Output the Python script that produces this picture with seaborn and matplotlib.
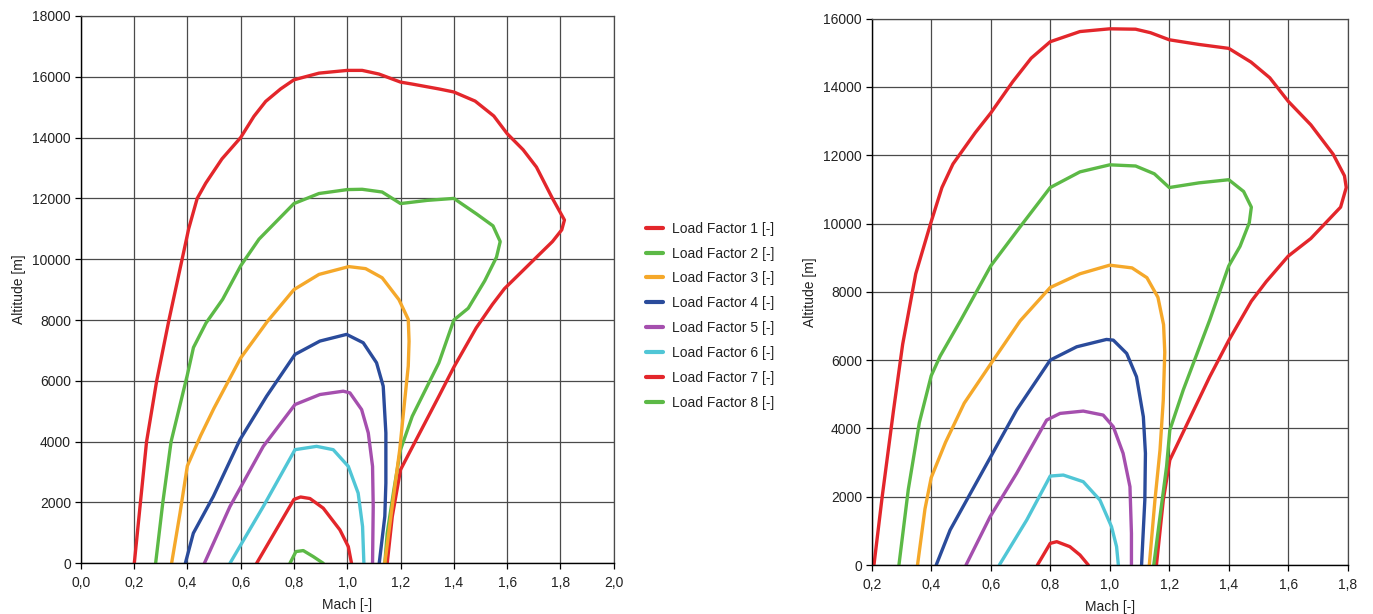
import numpy as np
import pandas as pd
import matplotlib
matplotlib.use("Agg")
import matplotlib.pyplot as plt
import seaborn as sns

# ---------------- data: left chart ----------------
L1_mach = [0.201, 0.224, 0.247, 0.285, 0.331, 0.394, 0.405, 0.437, 0.469, 0.53, 0.60, 0.65, 0.694, 0.75, 0.80,
           0.894, 1.0, 1.056, 1.119, 1.20, 1.244, 1.344, 1.40, 1.48, 1.55, 1.60, 1.66, 1.71, 1.77, 1.815,
           1.805, 1.77, 1.71, 1.65, 1.59, 1.545, 1.484, 1.40, 1.344, 1.20, 1.169, 1.15]
L1_alt = [0, 2000, 4000, 6000, 8000, 10550, 11000, 12000, 12500, 13300, 14000, 14700, 15190, 15600, 15900,
          16120, 16210, 16210, 16090, 15825, 15760, 15600, 15500, 15200, 14710, 14130, 13600, 13030, 12000, 11290,
          10967, 10580, 10065, 9548, 9032, 8516, 7742, 6450, 5495, 3077, 1538, 0]

L2_mach = [0.281, 0.308, 0.339, 0.40, 0.423, 0.47, 0.5325, 0.60, 0.669, 0.80, 0.894, 1.0, 1.056, 1.131, 1.20,
           1.30, 1.40, 1.486, 1.547, 1.574, 1.56, 1.516, 1.454, 1.40, 1.344, 1.244, 1.20, 1.175, 1.15, 1.141]
L2_alt = [0, 2000, 4000, 6194, 7097, 7900, 8680, 9780, 10660, 11830, 12160, 12290, 12300, 12210, 11830,
          11935, 12000, 11484, 11097, 10580, 10065, 9290, 8387, 8000, 6594, 4835, 3736, 2418, 989, 0]

L3_mach = [0.341, 0.3725, 0.40, 0.45, 0.50, 0.60, 0.70, 0.80, 0.894, 1.006, 1.069, 1.131, 1.194, 1.229,
           1.232, 1.229, 1.216, 1.197, 1.172, 1.141]
L3_alt = [0, 1648, 3200, 4200, 5100, 6750, 7950, 9000, 9500, 9757, 9690, 9390, 8670, 8022,
          7300, 6484, 5385, 3736, 2088, 0]

L4_mach = [0.3925, 0.4225, 0.4975, 0.5975, 0.6975, 0.804, 0.8975, 0.9975, 1.06, 1.11, 1.135, 1.145, 1.145,
           1.141, 1.12]
L4_alt = [0, 989, 2198, 4066, 5495, 6869, 7308, 7528, 7253, 6594, 5825, 4286, 2637, 1539, 0]

L5_mach = [0.464, 0.56, 0.685, 0.804, 0.8975, 0.985, 1.01, 1.054, 1.079, 1.095, 1.0975, 1.095]
L5_alt = [0, 1868, 3846, 5220, 5550, 5660, 5605, 5055, 4286, 3187, 1868, 0]

L6_mach = [0.56, 0.685, 0.804, 0.885, 0.9475, 1.004, 1.041, 1.0575, 1.0625]
L6_alt = [0, 1868, 3736, 3846, 3736, 3187, 2308, 1209, 0]

L7_mach = [0.66, 0.80, 0.825, 0.86, 0.91, 0.9725, 1.004, 1.016]
L7_alt = [0, 2100, 2180, 2130, 1813, 1099, 549, 0]

L8_mach = [0.785, 0.8075, 0.835, 0.8725, 0.91]
L8_alt = [0, 385, 418, 220, 0]

# ---------------- data: right chart ----------------
R1_mach = [0.2075, 0.235, 0.273, 0.304, 0.348, 0.398, 0.436, 0.473, 0.548, 0.60, 0.674, 0.736, 0.80, 0.90,
           1.0, 1.087, 1.137, 1.20, 1.30, 1.40, 1.475, 1.538, 1.60, 1.676, 1.751, 1.789, 1.795, 1.776,
           1.726, 1.676, 1.60, 1.526, 1.476, 1.40, 1.336, 1.202, 1.18, 1.157]
R1_alt = [0, 1986, 4511, 6462, 8528, 10000, 11053, 11742, 12660, 13234, 14152, 14841, 15323, 15621,
          15701, 15690, 15587, 15380, 15243, 15128, 14726, 14267, 13578, 12889, 12028, 11397, 11053, 10479,
          10020, 9561, 9045, 8298, 7725, 6577, 5512, 3073, 1902, 0]

R2_mach = [0.2915, 0.323, 0.36, 0.40, 0.43, 0.498, 0.60, 0.699, 0.80, 0.90, 1.0, 1.087, 1.15, 1.20, 1.30,
           1.40, 1.45, 1.476, 1.469, 1.438, 1.40, 1.363, 1.336, 1.247, 1.202, 1.191, 1.169, 1.148]
R2_alt = [0, 2215, 4166, 5543, 6117, 7150, 8757, 9905, 11053, 11512, 11718, 11684, 11455, 11053, 11190,
          11282, 10938, 10479, 10020, 9331, 8757, 7839, 7171, 5122, 3951, 2878, 1415, 0]

R3_mach = [0.354, 0.379, 0.40, 0.448, 0.511, 0.60, 0.699, 0.80, 0.90, 1.0, 1.075, 1.125, 1.162, 1.181,
           1.185, 1.18, 1.169, 1.152, 1.133]
R3_alt = [0, 1641, 2560, 3592, 4740, 5888, 7150, 8126, 8528, 8780, 8700, 8413, 7839, 7036,
          6232, 4829, 3366, 1902, 0]

R4_mach = [0.4168, 0.4635, 0.60, 0.687, 0.80, 0.889, 0.989, 1.012, 1.057, 1.09, 1.113, 1.12, 1.118, 1.107]
R4_alt = [0, 1024, 3171, 4537, 6000, 6390, 6605, 6585, 6195, 5512, 4341, 3268, 1902, 0]

R5_mach = [0.517, 0.598, 0.687, 0.788, 0.833, 0.911, 0.978, 1.012, 1.045, 1.068, 1.073, 1.073]
R5_alt = [0, 1415, 2683, 4244, 4439, 4507, 4390, 4049, 3268, 2293, 927, 0]

R6_mach = [0.629, 0.721, 0.80, 0.844, 0.911, 0.967, 1.006, 1.023, 1.029]
R6_alt = [0, 1317, 2605, 2634, 2439, 1902, 1122, 537, 0]

R7_mach = [0.757, 0.80, 0.822, 0.866, 0.90, 0.928]
R7_alt = [0, 634, 683, 537, 293, 0]

series_names = [f"Load Factor {i} [-]" for i in range(1, 9)]
series_colors = ["#e3262b", "#5cb946", "#f5a82a", "#2a4b9b", "#a54fae", "#50c6d6", "#e3262b", "#5cb946"]

left_x_ticks = [0.0, 0.2, 0.4, 0.6, 0.8, 1.0, 1.2, 1.4, 1.6, 1.8, 2.0]
left_x_labels = ["0,0", "0,2", "0,4", "0,6", "0,8", "1,0", "1,2", "1,4", "1,6", "1,8", "2,0"]
left_y_ticks = [0, 2000, 4000, 6000, 8000, 10000, 12000, 14000, 16000, 18000]
right_x_ticks = [0.2, 0.4, 0.6, 0.8, 1.0, 1.2, 1.4, 1.6, 1.8]
right_x_labels = ["0,2", "0,4", "0,6", "0,8", "1,0", "1,2", "1,4", "1,6", "1,8"]
right_y_ticks = [0, 2000, 4000, 6000, 8000, 10000, 12000, 14000, 16000]

left_curves = [(L1_mach, L1_alt), (L2_mach, L2_alt), (L3_mach, L3_alt), (L4_mach, L4_alt),
               (L5_mach, L5_alt), (L6_mach, L6_alt), (L7_mach, L7_alt), (L8_mach, L8_alt)]
right_curves = [(R1_mach, R1_alt), (R2_mach, R2_alt), (R3_mach, R3_alt), (R4_mach, R4_alt),
                (R5_mach, R5_alt), (R6_mach, R6_alt), (R7_mach, R7_alt)]


def build_df(curves):
    frames = []
    for name, (m, a) in zip(series_names, curves):
        frames.append(pd.DataFrame({"Mach": m, "Altitude": a, "Series": name, "order": range(len(m))}))
    return pd.concat(frames, ignore_index=True)


df_left = build_df(left_curves)
df_right = build_df(right_curves)
palette = dict(zip(series_names, series_colors))

sns.set_style("white")
plt.rcParams["font.family"] = ["Liberation Sans", "DejaVu Sans"]

fig = plt.figure(figsize=(13.73, 6.14), dpi=100)
ax1 = fig.add_axes([0.0588, 0.0826, 0.447 - 0.0588, 0.974 - 0.0826])
ax2 = fig.add_axes([0.6349, 0.0798, 0.9816 - 0.6349, 0.9697 - 0.0798])

sns.lineplot(data=df_left, x="Mach", y="Altitude", hue="Series", hue_order=series_names,
             palette=palette, sort=False, estimator=None, units="Series", linewidth=2.4, ax=ax1, legend=True)
sns.lineplot(data=df_right, x="Mach", y="Altitude", hue="Series", hue_order=series_names[:7],
             palette=palette, sort=False, estimator=None, units="Series", linewidth=2.4, ax=ax2, legend=False)

handles, labels = ax1.get_legend_handles_labels()
if ax1.get_legend() is not None:
    ax1.get_legend().remove()

grid_color = "#4a4a4a"
for ax, xt, xl, yt, xlim, ylim in [
    (ax1, left_x_ticks, left_x_labels, left_y_ticks, (0.0, 2.0), (0, 18000)),
    (ax2, right_x_ticks, right_x_labels, right_y_ticks, (0.2, 1.8), (0, 16000)),
]:
    ax.set_xlim(*xlim)
    ax.set_ylim(*ylim)
    ax.set_xticks(xt)
    ax.set_xticklabels(xl)
    ax.set_yticks(yt)
    ax.set_yticklabels([str(v) for v in yt])
    ax.grid(True, color=grid_color, linewidth=0.9)
    ax.set_axisbelow(True)
    ax.tick_params(axis="both", which="both", direction="out", length=4, width=0.9, color="black",
                   labelsize=10, labelcolor="#222222", pad=3, left=True, bottom=True)
    ax.tick_params(axis="x", pad=5)
    ax.set_xlabel("Mach [-]", fontsize=10, color="#222222", labelpad=6)
    ax.set_ylabel("Altitude [m]", fontsize=10, color="#222222", labelpad=4.5)
    for side in ["top", "right"]:
        ax.spines[side].set_color(grid_color)
        ax.spines[side].set_linewidth(0.9)
    for side in ["left", "bottom"]:
        ax.spines[side].set_color("black")
        ax.spines[side].set_linewidth(1.0)

leg = fig.legend(handles, labels, loc="center left", bbox_to_anchor=(0.4705, 0.486),
                 frameon=False, fontsize=10, borderpad=0, borderaxespad=0,
                 handlelength=1.25, handletextpad=0.6, labelspacing=0.78)
for h in leg.legend_handles:
    h.set_linewidth(3)
for t in leg.get_texts():
    t.set_color("#222222")

fig.savefig("out.png", dpi=100)
